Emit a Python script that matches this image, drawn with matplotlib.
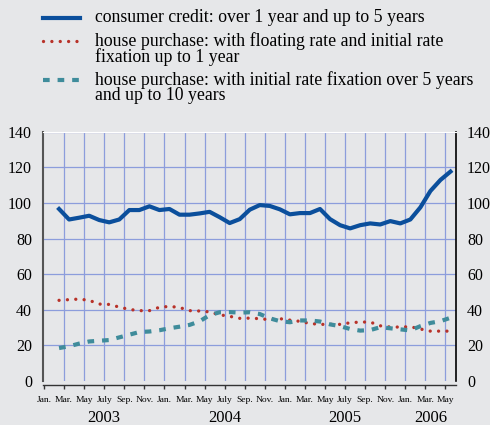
import matplotlib
matplotlib.use("Agg")
import matplotlib.pyplot as plt
from matplotlib.lines import Line2D
import numpy as np

# months run Jan 2003 .. May 2006; data from Feb 2003 to May 2006
start_month = 1  # Feb 2003 (0 = Jan 2003)

consumer_credit = [96.6, 90.7, 91.7, 92.8, 90.4, 89.1, 90.7, 96.0, 96.0, 98.1,
                   96.0, 96.6, 93.4, 93.4, 94.1, 95.0, 92.0, 88.7, 90.9, 96.2,
                   98.8, 98.3, 96.4, 93.6, 94.3, 94.3, 96.6, 90.9, 87.5, 85.7,
                   87.5, 88.5, 87.9, 89.8, 88.5, 90.7, 97.5, 106.7, 112.9, 117.6]

floating_rate = [45.3, 45.7, 46.0, 45.3, 43.2, 43.0, 41.5, 40.2, 39.5, 39.5,
                 41.4, 41.9, 41.3, 39.5, 39.3, 38.8, 37.2, 36.3, 35.2, 35.3,
                 35.0, 34.4, 35.0, 34.2, 33.5, 32.3, 31.8, 31.8, 31.8, 32.7,
                 33.1, 33.1, 31.0, 30.3, 30.3, 30.5, 29.2, 28.0, 28.0, 28.0]

fixation_5_10 = [18.5, 19.5, 21.0, 22.2, 22.6, 23.0, 24.5, 26.0, 27.5, 27.8,
                 28.5, 29.6, 30.5, 31.5, 33.5, 37.0, 38.6, 38.7, 38.4, 38.6,
                 37.6, 35.2, 33.6, 33.0, 34.0, 34.0, 33.4, 31.8, 30.8, 29.2,
                 28.3, 28.6, 30.2, 29.6, 29.0, 28.4, 30.8, 32.6, 33.6, 35.5]

month_labels = ["Jan.", "Mar.", "May", "July", "Sep.", "Nov."] * 3 + ["Jan.", "Mar.", "May"]
years = ["2003", "2004", "2005", "2006"]
year_pos = [6, 18, 30, 38.5]

labels = ["consumer credit: over 1 year and up to 5 years",
          "house purchase: with floating rate and initial rate\nfixation up to 1 year",
          "house purchase: with initial rate fixation over 5 years\nand up to 10 years"]

bg = "#e6e7e9"
c_blue = "#0b4f9c"
c_red = "#b83229"
c_teal = "#3f8c9b"
c_grid = "#8c9ddc"

plt.rcParams["font.family"] = ["Liberation Serif", "DejaVu Serif"]

fig = plt.figure(figsize=(4.9, 4.25), dpi=100, facecolor=bg)
ax = fig.add_axes([43 / 490, 1 - 381 / 425, 413 / 490, (381 - 131.7) / 425])
ax.set_facecolor(bg)

x = np.arange(len(consumer_credit)) + start_month + 0.5

ax.plot(x, consumer_credit, color=c_blue, lw=3, solid_joinstyle="round", zorder=4)
ax.plot(x, floating_rate, color=c_red, lw=2.4, linestyle=(0, (0.01, 2.5)),
        dash_capstyle="round", zorder=3)
ax.plot(x, fixation_5_10, color=c_teal, lw=3, linestyle=(0, (1.6, 1.9)),
        dash_capstyle="butt", zorder=3)

ax.set_xlim(-0.1, 41.05)
ax.set_ylim(0, 140)

# grid
for m in range(2, 41, 2):
    ax.axvline(m, color=c_grid, lw=0.9, zorder=1)
for v in range(20, 141, 20):
    ax.axhline(v, color=c_grid, lw=0.9, zorder=1)

ax.set_xticks(range(0, 41, 2))
ax.set_xticklabels(month_labels)
ax.tick_params(axis="x", direction="out", length=3, width=1, color="#333333",
               pad=5, labelsize=6.8)
ax.set_yticks(range(0, 141, 20))
ax.tick_params(axis="y", length=0, labelsize=11.5, pad=8, labelright=True, labelleft=True)

ax.spines["top"].set_color("white")
ax.spines["left"].set_color("#555555")
ax.spines["left"].set_linewidth(1.5)
ax.spines["right"].set_color("black")
ax.spines["right"].set_linewidth(1.2)
ax.spines["bottom"].set_position(("outward", 3))
ax.spines["bottom"].set_color("#333333")
ax.spines["bottom"].set_linewidth(1)

for yr, p in zip(years, year_pos):
    ax.annotate(yr, xy=(p, 0), xycoords=("data", "axes fraction"),
                xytext=(0, -21), textcoords="offset points",
                ha="center", va="top", fontsize=12)

# legend drawn by hand so handles sit on the first text line
leg_y = [1 - 18 / 425, 1 - 41 / 425, 1 - 80 / 425]
styles = [dict(color=c_blue, lw=3),
          dict(color=c_red, lw=2.4, linestyle=(0, (0.01, 2.5)), dash_capstyle="round"),
          dict(color=c_teal, lw=3, linestyle=(0, (1.6, 1.9)), dash_capstyle="butt")]
for y, st, lab in zip(leg_y, styles, labels):
    fig.add_artist(Line2D([43 / 490, 80 / 490], [y, y], transform=fig.transFigure, **st))
    fig.text(95 / 490, y + 9 / 425, lab, fontsize=12.8, va="top", ha="left",
             linespacing=0.85)

fig.savefig("out.png", dpi=100, facecolor=bg)
